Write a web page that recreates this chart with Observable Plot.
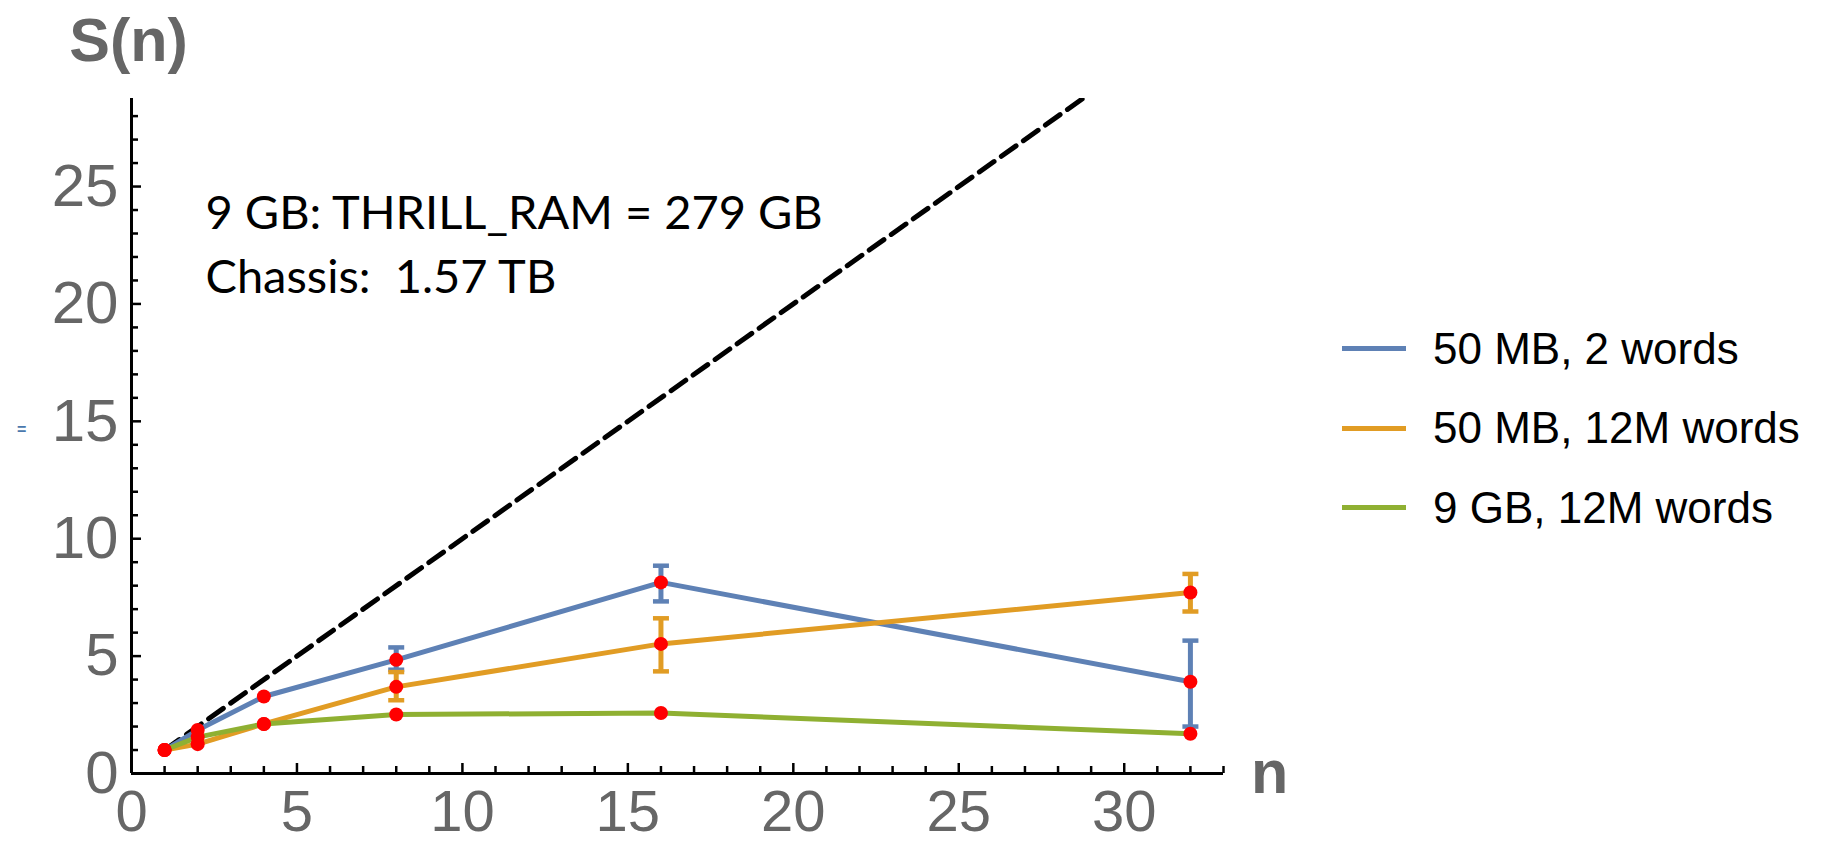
<!DOCTYPE html>
<html><head><meta charset="utf-8">
<script src="https://cdn.jsdelivr.net/npm/d3@7"></script>
<script src="https://cdn.jsdelivr.net/npm/@observablehq/plot@0.6"></script>
<style>
html,body{margin:0;padding:0;background:#fff;}
#wrap{position:relative;width:1830px;height:843px;overflow:hidden;}
#wrap svg text{white-space:pre;}
.legend{position:absolute;left:1342px;top:309px;font-family:"Liberation Sans",Arial,sans-serif;font-size:44px;color:#000;}
.legend .row{display:flex;align-items:center;height:79.5px;white-space:pre;}
.legend .sw{width:64px;height:5px;margin-right:27px;flex:none;}
.artifact{position:absolute;left:17px;top:422px;font:bold 16px "Liberation Sans",sans-serif;color:#4a78ad;line-height:16px;}
</style></head><body><div id="wrap"></div>
<script>
// ---- data ----
const nValues = [1, 2, 4, 8, 16, 32];
const seriesNames = ["50 MB, 2 words", "50 MB, 12M words", "9 GB, 12M words"];
const seriesColors = ["#5e81b5", "#e19c24", "#8fb032"];
const speedupBlue   = [1.0, 1.85, 3.28, 4.84, 8.14, 3.91];
const speedupOrange = [1.0, 1.25, 2.11, 3.69, 5.52, 7.71];
const speedupGreen  = [1.0, 1.55, 2.11, 2.51, 2.58, 1.69];
const errLowBlue    = [null, null, null, 4.42, 7.33, 2.00];
const errHighBlue   = [null, null, null, 5.37, 8.85, 5.66];
const errLowOrange  = [null, null, null, 3.12, 4.35, 6.90];
const errHighOrange = [null, null, null, 4.32, 6.61, 8.50];
const errLowGreen   = [null, null, null, null, null, null];
const errHighGreen  = [null, null, null, null, null, null];
const idealN = [1, 32];
const idealS = [1, 32];
const xDomain = [0, 33];
const yDomain = [0, 28.75];
const xMajorTicks = [0, 5, 10, 15, 20, 25, 30];
const xMinorTicks = [1,2,3,4,6,7,8,9,11,12,13,14,16,17,18,19,21,22,23,24,26,27,28,29,31,32,33];
const yMajorTicks = [0, 5, 10, 15, 20, 25];
const yMinorTicks = [1,2,3,4,6,7,8,9,11,12,13,14,16,17,18,19,21,22,23,24,26,27,28];
const annotationLines = ["9 GB: THRILL_RAM = 279 GB", "Chassis:  1.57 TB"];
const yLabel = "S(n)";
const xLabel = "n";

// ---- tables built from the arrays ----
const speedups = [speedupBlue, speedupOrange, speedupGreen];
const errLows = [errLowBlue, errLowOrange, errLowGreen];
const errHighs = [errHighBlue, errHighOrange, errHighGreen];
const rows = [];
const bars = [];
const caps = [];
seriesNames.forEach((name, k) => {
  nValues.forEach((n, i) => {
    rows.push({series: name, n, s: speedups[k][i]});
    const lo = errLows[k][i], hi = errHighs[k][i];
    if (lo != null && hi != null) {
      bars.push({series: name, n, lo, hi});
      caps.push({series: name, n, v: lo});
      caps.push({series: name, n, v: hi});
    }
  });
});
const ideal = idealN.map((n, i) => ({n, s: idealS[i]}));

const capSymbol = {draw(context, size) { const w = Math.sqrt(size / Math.PI); context.moveTo(-w, 0); context.lineTo(w, 0); }};
const tickFont = "Liberation Sans, Arial, sans-serif";
const gray = "#666666";

const chart = Plot.plot({
  width: 1830, height: 843,
  marginLeft: 131, marginRight: 607, marginTop: 98, marginBottom: 70,
  x: {domain: xDomain},
  y: {domain: yDomain},
  color: {domain: seriesNames, range: seriesColors},
  style: {background: "transparent", fontFamily: tickFont, overflow: "visible"},
  marks: [
    Plot.axisY(yMajorTicks, {tickSize: 0, tickPadding: 13, fontSize: 60, color: gray, fontFamily: tickFont, label: null}),
    Plot.axisX(xMajorTicks, {tickSize: 0, tickPadding: 16, fontSize: 58, color: gray, fontFamily: tickFont, label: null}),
    Plot.axisY(yMajorTicks, {tickSize: -10, text: null, color: "black", strokeWidth: 2.5, label: null}),
    Plot.axisY(yMinorTicks, {tickSize: -7, text: null, color: "black", strokeWidth: 2.5, label: null}),
    Plot.axisX(xMajorTicks, {tickSize: -10, text: null, color: "black", strokeWidth: 2.5, label: null}),
    Plot.axisX(xMinorTicks, {tickSize: -7, text: null, color: "black", strokeWidth: 2.5, label: null}),
    Plot.ruleX([xDomain[0]], {stroke: "black", strokeWidth: 3}),
    Plot.ruleY([yDomain[0]], {stroke: "black", strokeWidth: 3}),
    Plot.line(ideal, {x: "n", y: "s", stroke: "black", strokeWidth: 5, strokeDasharray: "18,9", clip: true}),
    Plot.line(rows, {x: "n", y: "s", stroke: "series", z: "series", strokeWidth: 5}),
    Plot.ruleX(bars, {x: "n", y1: "lo", y2: "hi", stroke: "series", strokeWidth: 5}),
    Plot.dot(caps, {x: "n", y: "v", stroke: "series", fill: "none", r: 8, strokeWidth: 4.5, symbol: capSymbol}),
    Plot.dot(rows, {x: "n", y: "s", r: 7, fill: "#ff0000", stroke: "none"}),
    Plot.text([annotationLines.join("\n")], {frameAnchor: "top-left", dx: 74, dy: 84, textAnchor: "start", lineAnchor: "top", lineHeight: 1.38, fontSize: 47, fontFamily: "Lato, sans-serif", fill: "black"}),
    Plot.text([yLabel], {frameAnchor: "top-left", dx: -3, dy: -38, textAnchor: "middle", lineAnchor: "bottom", fontSize: 61, fontWeight: "bold", fill: gray, fontFamily: tickFont}),
    Plot.text([xLabel], {frameAnchor: "bottom-right", dx: 46, dy: 19, textAnchor: "middle", lineAnchor: "bottom", fontSize: 61, fontWeight: "bold", fill: gray, fontFamily: tickFont})
  ]
});
const wrap = document.getElementById("wrap");
wrap.appendChild(chart);

// legend (HTML, right of the plot)
const legend = document.createElement("div");
legend.className = "legend";
seriesNames.forEach((name, k) => {
  const row = document.createElement("div");
  row.className = "row";
  const sw = document.createElement("span");
  sw.className = "sw";
  sw.style.background = seriesColors[k];
  const label = document.createElement("span");
  label.textContent = name;
  row.appendChild(sw);
  row.appendChild(label);
  legend.appendChild(row);
});
wrap.appendChild(legend);

const art = document.createElement("div");
art.className = "artifact";
art.textContent = "=";
wrap.appendChild(art);
</script>
</body></html>
